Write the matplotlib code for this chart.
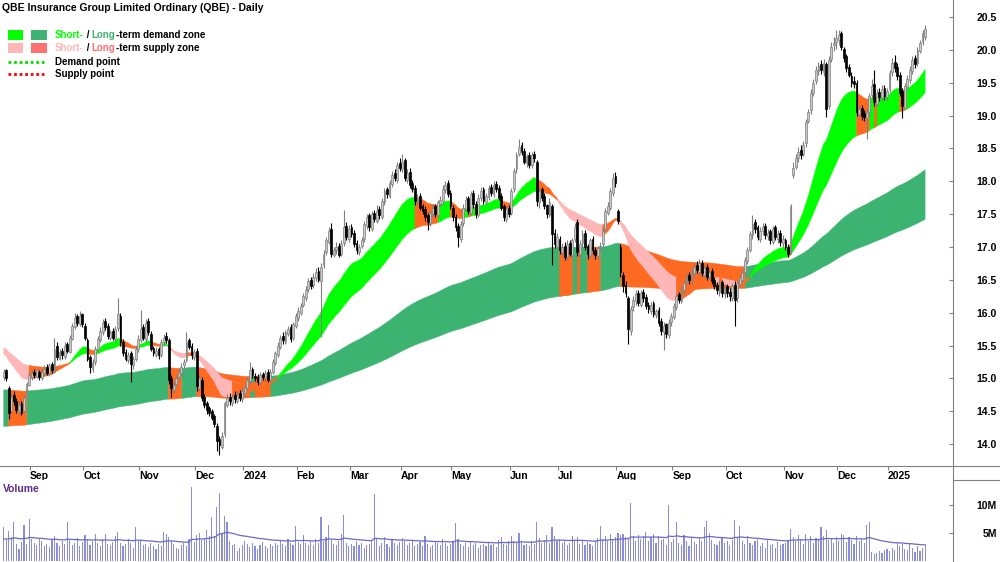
import numpy as np
import pandas as pd
import matplotlib
matplotlib.use("Agg")
import matplotlib.pyplot as plt
from matplotlib.lines import Line2D
from matplotlib.patches import Rectangle

plt.rcParams['font.family'] = ['Liberation Sans', 'DejaVu Sans']

# ---- daily OHLC, QBE, 17 Aug 2023 .. 22 Jan 2025 (one line per month) ----
opens = [
    15.02, 15.12, 14.85, 14.50, 14.75, 14.66, 14.50, 14.62, 14.50, 14.72, 14.90,
    15.02, 15.10, 15.02, 15.10, 15.00, 15.08, 15.18, 15.06, 15.22, 15.10, 15.50, 15.30, 15.42, 15.32, 15.52, 15.40, 15.60, 15.78, 15.95, 15.82, 15.98,
    15.80, 15.58, 15.32, 15.15, 15.25, 15.45, 15.58, 15.70, 15.88, 15.80, 15.62, 15.72, 15.60, 15.76, 15.95, 15.55, 15.40, 15.28, 15.38, 15.20, 15.30, 15.45,
    15.58, 15.78, 15.60, 15.88, 15.68, 15.46, 15.36, 15.44, 15.36, 15.55, 15.65, 15.58, 15.00, 14.82, 14.92, 15.02, 15.08, 15.20, 15.28, 15.58, 15.50, 15.32,
    15.42, 14.85, 14.98, 14.72, 14.62, 14.55, 14.50, 14.42, 14.28, 14.08, 13.95, 14.15, 14.60, 14.72, 14.62, 14.75, 14.66, 14.78, 14.68,
    14.78, 14.86, 14.96, 15.15, 15.04, 15.02, 14.94, 15.06, 15.00, 15.10, 14.98, 15.10, 15.24, 15.36, 15.48, 15.65, 15.56, 15.68, 15.78, 15.62, 15.80,
    15.92, 16.00, 16.12, 16.22, 16.36, 16.50, 16.42, 16.52, 16.64, 16.48, 16.72, 16.92, 17.08, 17.28, 16.88, 16.96, 17.02, 16.90, 17.06, 17.32, 17.12,
    17.30, 17.22, 17.06, 16.92, 17.02, 17.12, 17.32, 17.48, 17.28, 17.52, 17.40, 17.58, 17.46, 17.68, 17.88, 17.78, 17.96, 18.12, 18.02, 18.28,
    18.18, 18.32, 18.02, 18.14, 17.98, 17.90, 17.68, 17.78, 17.62, 17.58, 17.48, 17.36, 17.50, 17.62, 17.48, 17.66, 17.70, 17.86, 17.98, 17.82,
    17.60, 17.46, 17.32, 17.12, 17.36, 17.58, 17.74, 17.52, 17.82, 17.66, 17.48, 17.74, 17.88, 17.68, 17.76, 17.92, 17.80, 17.96, 17.90, 17.78, 17.62, 17.42, 17.60,
    17.52, 17.88, 18.18, 18.42, 18.55, 18.46, 18.28, 18.40, 18.24, 18.42, 18.30, 17.68, 17.88, 17.78, 17.64, 17.48, 17.62, 17.22, 17.02,
    17.12, 16.92, 17.02, 16.84, 17.06, 16.88, 17.12, 17.38, 16.90, 17.06, 17.22, 17.02, 16.88, 17.12, 16.96, 16.86, 17.00, 17.04, 17.28, 17.52, 17.60, 17.82, 18.08,
    17.55, 17.00, 16.58, 16.42, 16.22, 15.72, 16.08, 16.18, 16.30, 16.12, 16.32, 16.24, 16.12, 16.02, 16.14, 15.96, 16.04, 15.88, 15.70, 15.82, 15.66, 15.86,
    15.94, 16.08, 16.28, 16.18, 16.34, 16.46, 16.58, 16.48, 16.60, 16.72, 16.62, 16.76, 16.58, 16.70, 16.54, 16.64, 16.50, 16.42, 16.32, 16.46, 16.28,
    16.40, 16.32, 16.22, 16.42, 16.22, 16.44, 16.50, 16.62, 16.78, 16.96, 17.18, 17.38, 17.30, 17.12, 17.24, 17.32, 17.16, 17.24, 17.08, 17.30, 17.12, 17.22, 17.06,
    17.10, 17.00, 16.92, 18.10, 18.22, 18.36, 18.48, 18.42, 18.58, 18.92, 19.08, 19.34, 19.52, 19.68, 19.78, 19.66, 19.78, 19.15, 19.86, 20.08, 20.12,
    20.15, 20.25, 20.02, 19.90, 19.74, 19.60, 19.52, 19.50, 19.02, 19.12, 19.04, 18.96, 19.06, 19.32, 19.48, 19.18, 19.36, 19.26, 19.42, 19.28,
    19.40, 19.66, 19.82, 19.74, 19.62, 19.38, 19.12, 19.44, 19.54, 19.68, 19.88, 19.80, 19.98, 20.12, 20.20,
]
highs = [
    15.15, 15.15, 14.88, 14.78, 14.80, 14.70, 14.65, 14.66, 14.74, 14.95, 15.10,
    15.12, 15.14, 15.15, 15.12, 15.14, 15.20, 15.22, 15.24, 15.25, 15.62, 15.55, 15.45, 15.46, 15.55, 15.56, 15.66, 15.85, 16.00, 15.98, 16.02, 16.00,
    15.85, 15.62, 15.36, 15.30, 15.50, 15.65, 15.78, 15.90, 15.92, 15.84, 15.74, 15.76, 15.80, 16.22, 16.00, 15.60, 15.45, 15.40, 15.42, 15.34, 15.50, 15.66,
    16.04, 15.82, 15.90, 15.92, 15.72, 15.50, 15.48, 15.48, 15.60, 15.68, 15.70, 15.62, 15.05, 14.95, 15.05, 15.14, 15.24, 15.30, 15.70, 15.62, 15.54, 15.45,
    15.46, 15.05, 15.02, 14.76, 14.66, 14.58, 14.54, 14.45, 14.32, 14.12, 14.18, 14.66, 14.76, 14.78, 14.76, 14.80, 14.80, 14.82, 14.85,
    14.90, 15.02, 15.25, 15.18, 15.08, 15.06, 15.10, 15.10, 15.12, 15.14, 15.14, 15.30, 15.42, 15.55, 15.66, 15.70, 15.74, 15.80, 15.82, 15.86, 16.00,
    16.08, 16.14, 16.30, 16.40, 16.52, 16.55, 16.60, 16.68, 16.70, 16.75, 16.95, 17.15, 17.30, 17.36, 17.00, 17.08, 17.06, 17.10, 17.56, 17.38, 17.34,
    17.35, 17.26, 17.10, 17.05, 17.15, 17.40, 17.50, 17.52, 17.55, 17.56, 17.64, 17.62, 17.75, 17.90, 17.92, 18.02, 18.15, 18.18, 18.30, 18.35,
    18.42, 18.36, 18.18, 18.20, 18.02, 17.94, 17.80, 17.82, 17.66, 17.62, 17.52, 17.56, 17.66, 17.66, 17.72, 17.78, 17.94, 18.00, 18.02, 17.86,
    17.64, 17.50, 17.36, 17.40, 17.65, 17.78, 17.78, 17.85, 17.86, 17.70, 17.80, 17.92, 17.92, 17.82, 17.95, 17.96, 18.00, 18.00, 17.94, 17.82, 17.66, 17.62, 17.64,
    17.90, 18.20, 18.45, 18.65, 18.60, 18.50, 18.42, 18.45, 18.44, 18.46, 18.32, 17.92, 17.92, 17.82, 17.66, 17.74, 17.66, 17.28, 17.22,
    17.16, 17.06, 17.08, 17.10, 17.10, 17.14, 17.36, 17.42, 17.10, 17.26, 17.26, 17.05, 17.14, 17.16, 17.00, 17.02, 17.08, 17.30, 17.60, 17.68, 17.90, 18.12, 18.14,
    17.58, 17.04, 16.62, 16.48, 16.26, 16.10, 16.25, 16.34, 16.34, 16.35, 16.36, 16.28, 16.16, 16.16, 16.18, 16.06, 16.08, 15.92, 15.86, 15.84, 15.90, 16.00,
    16.15, 16.30, 16.32, 16.40, 16.50, 16.60, 16.62, 16.68, 16.76, 16.78, 16.82, 16.80, 16.72, 16.74, 16.66, 16.68, 16.54, 16.46, 16.50, 16.50, 16.44,
    16.44, 16.38, 16.45, 16.48, 16.50, 16.58, 16.66, 16.85, 17.00, 17.25, 17.48, 17.42, 17.34, 17.30, 17.36, 17.36, 17.28, 17.28, 17.32, 17.34, 17.26, 17.26, 17.18,
    17.14, 17.04, 17.66, 18.30, 18.42, 18.52, 18.55, 18.62, 18.95, 19.10, 19.40, 19.55, 19.76, 19.82, 19.84, 19.86, 19.82, 19.90, 20.12, 20.20, 20.30,
    20.30, 20.28, 20.05, 19.94, 19.78, 19.66, 19.60, 19.54, 19.16, 19.16, 19.08, 19.10, 19.34, 19.55, 19.70, 19.40, 19.42, 19.46, 19.46, 19.42,
    19.70, 19.88, 19.92, 19.80, 19.66, 19.42, 19.50, 19.62, 19.75, 19.90, 19.92, 20.05, 20.15, 20.30, 20.38,
]
lows = [
    14.98, 14.96, 14.38, 14.45, 14.60, 14.48, 14.46, 14.44, 14.48, 14.70, 14.88,
    14.98, 15.00, 15.00, 14.98, 14.98, 15.04, 15.05, 15.04, 15.08, 15.08, 15.28, 15.28, 15.30, 15.30, 15.38, 15.38, 15.58, 15.75, 15.80, 15.80, 15.78,
    15.58, 15.26, 15.08, 15.10, 15.20, 15.40, 15.55, 15.66, 15.74, 15.60, 15.58, 15.58, 15.56, 15.72, 15.50, 15.34, 15.26, 15.24, 14.94, 15.15, 15.26, 15.40,
    15.55, 15.58, 15.56, 15.66, 15.42, 15.34, 15.32, 15.30, 15.32, 15.50, 15.54, 14.92, 14.72, 14.78, 14.88, 14.98, 15.04, 15.15, 15.25, 15.44, 15.30, 15.28,
    14.80, 14.80, 14.66, 14.55, 14.45, 14.42, 14.36, 14.26, 13.90, 13.83, 13.92, 14.10, 14.56, 14.60, 14.58, 14.62, 14.62, 14.66, 14.64,
    14.72, 14.82, 14.92, 15.00, 14.96, 14.90, 14.92, 14.98, 14.96, 14.94, 14.95, 15.06, 15.20, 15.32, 15.45, 15.52, 15.52, 15.64, 15.56, 15.58, 15.76,
    15.88, 15.96, 16.08, 16.18, 16.32, 16.36, 16.38, 16.48, 16.46, 15.63, 16.68, 16.88, 17.04, 16.84, 16.84, 16.90, 16.84, 16.86, 17.02, 17.10, 17.08,
    17.15, 17.00, 16.90, 16.88, 16.98, 17.08, 17.28, 17.25, 17.25, 17.38, 17.36, 17.42, 17.42, 17.64, 17.75, 17.74, 17.92, 18.00, 17.98, 18.15,
    18.14, 18.00, 17.98, 17.90, 17.84, 17.64, 17.64, 17.56, 17.50, 17.40, 17.26, 17.32, 17.46, 17.46, 17.44, 17.62, 17.66, 17.82, 17.76, 17.58,
    17.40, 17.24, 17.00, 17.08, 17.32, 17.54, 17.50, 17.48, 17.60, 17.44, 17.45, 17.70, 17.66, 17.64, 17.72, 17.78, 17.76, 17.84, 17.72, 17.56, 17.40, 17.38, 17.46,
    17.48, 17.84, 18.12, 18.38, 18.40, 18.26, 18.22, 18.20, 18.20, 18.30, 17.62, 17.60, 17.70, 17.58, 17.44, 17.46, 16.72, 16.98, 16.95,
    16.90, 16.86, 16.80, 16.80, 16.86, 16.84, 17.08, 16.86, 16.85, 17.00, 16.96, 16.82, 16.84, 16.90, 16.82, 16.80, 16.96, 17.00, 17.24, 17.48, 17.56, 17.78, 17.92,
    17.35, 16.55, 16.32, 16.24, 15.53, 15.66, 16.02, 16.12, 16.10, 16.08, 16.16, 16.06, 16.00, 15.98, 15.94, 15.92, 15.80, 15.66, 15.43, 15.62, 15.62, 15.80,
    15.90, 16.04, 16.14, 16.14, 16.30, 16.42, 16.44, 16.44, 16.56, 16.60, 16.58, 16.56, 16.54, 16.50, 16.50, 16.44, 16.36, 16.28, 16.26, 16.24, 16.22,
    16.24, 16.18, 16.18, 15.80, 16.16, 16.40, 16.46, 16.58, 16.74, 16.92, 17.12, 17.22, 17.10, 17.08, 17.18, 17.12, 17.10, 17.04, 17.04, 17.10, 17.06, 17.02, 17.00,
    16.95, 16.85, 16.90, 18.05, 18.18, 18.30, 18.34, 18.38, 18.52, 18.88, 19.02, 19.30, 19.48, 19.62, 19.64, 19.60, 18.98, 19.10, 19.82, 19.98, 20.02,
    20.08, 20.00, 19.82, 19.66, 19.58, 19.44, 19.42, 19.00, 18.96, 18.94, 18.92, 18.65, 19.00, 19.26, 19.15, 19.14, 19.22, 19.22, 19.24, 19.24,
    19.36, 19.60, 19.66, 19.54, 19.30, 18.96, 19.10, 19.40, 19.50, 19.64, 19.72, 19.76, 19.95, 20.08, 20.15,
]
closes = [
    15.10, 15.00, 14.48, 14.72, 14.65, 14.52, 14.60, 14.48, 14.70, 14.92, 15.05,
    15.08, 15.05, 15.12, 15.02, 15.10, 15.15, 15.08, 15.20, 15.12, 15.45, 15.32, 15.40, 15.35, 15.50, 15.42, 15.62, 15.80, 15.92, 15.85, 15.95, 15.82,
    15.62, 15.30, 15.18, 15.25, 15.45, 15.60, 15.72, 15.85, 15.78, 15.65, 15.70, 15.62, 15.75, 15.98, 15.55, 15.38, 15.30, 15.35, 15.22, 15.30, 15.45, 15.60,
    15.75, 15.62, 15.85, 15.70, 15.45, 15.38, 15.42, 15.35, 15.55, 15.62, 15.58, 14.98, 14.85, 14.90, 15.00, 15.10, 15.18, 15.25, 15.55, 15.48, 15.35, 15.40,
    14.88, 15.00, 14.70, 14.60, 14.52, 14.48, 14.40, 14.30, 14.05, 13.98, 14.12, 14.62, 14.70, 14.65, 14.72, 14.68, 14.75, 14.70, 14.80,
    14.85, 14.98, 15.12, 15.05, 15.00, 14.95, 15.05, 15.02, 15.08, 14.98, 15.10, 15.25, 15.38, 15.50, 15.62, 15.58, 15.70, 15.75, 15.60, 15.82, 15.95,
    16.02, 16.10, 16.25, 16.35, 16.48, 16.40, 16.55, 16.62, 16.50, 16.70, 16.90, 17.10, 17.25, 16.90, 16.95, 17.00, 16.88, 17.05, 17.30, 17.15, 17.28,
    17.20, 17.05, 16.95, 17.00, 17.10, 17.35, 17.45, 17.30, 17.50, 17.42, 17.55, 17.48, 17.70, 17.85, 17.80, 17.98, 18.10, 18.05, 18.25, 18.20,
    18.30, 18.05, 18.12, 17.95, 17.88, 17.70, 17.75, 17.60, 17.55, 17.45, 17.38, 17.52, 17.60, 17.50, 17.68, 17.72, 17.88, 17.95, 17.80, 17.62,
    17.45, 17.30, 17.15, 17.35, 17.60, 17.72, 17.55, 17.80, 17.65, 17.50, 17.75, 17.85, 17.70, 17.78, 17.90, 17.82, 17.95, 17.88, 17.75, 17.60, 17.45, 17.58, 17.50,
    17.85, 18.15, 18.40, 18.52, 18.45, 18.30, 18.38, 18.25, 18.40, 18.35, 17.70, 17.85, 17.75, 17.62, 17.50, 17.68, 17.20, 17.05, 17.15,
    16.95, 17.00, 16.85, 17.05, 16.90, 17.10, 17.30, 16.92, 17.05, 17.20, 17.00, 16.90, 17.10, 16.95, 16.88, 16.98, 17.02, 17.25, 17.55, 17.62, 17.85, 18.05, 17.98,
    17.40, 16.62, 16.40, 16.30, 15.75, 16.05, 16.20, 16.28, 16.15, 16.30, 16.22, 16.10, 16.05, 16.12, 15.98, 16.02, 15.85, 15.72, 15.80, 15.68, 15.85, 15.95,
    16.10, 16.25, 16.20, 16.35, 16.45, 16.55, 16.50, 16.62, 16.70, 16.65, 16.75, 16.60, 16.68, 16.55, 16.62, 16.48, 16.40, 16.35, 16.45, 16.30, 16.38,
    16.30, 16.25, 16.40, 16.20, 16.45, 16.52, 16.60, 16.80, 16.95, 17.20, 17.35, 17.28, 17.15, 17.25, 17.30, 17.18, 17.22, 17.10, 17.28, 17.15, 17.20, 17.08, 17.12,
    17.00, 16.90, 17.62, 18.20, 18.35, 18.45, 18.40, 18.55, 18.90, 19.05, 19.35, 19.50, 19.70, 19.75, 19.70, 19.80, 19.10, 19.85, 20.05, 20.10, 20.18,
    20.22, 20.05, 19.88, 19.72, 19.62, 19.50, 19.48, 19.05, 19.10, 19.00, 18.98, 19.05, 19.30, 19.45, 19.20, 19.35, 19.28, 19.40, 19.30, 19.38,
    19.65, 19.80, 19.72, 19.60, 19.35, 19.15, 19.45, 19.55, 19.70, 19.85, 19.78, 20.00, 20.10, 20.25, 20.32,
]
# volume in millions of shares
volumes = [
    6.1, 3.8, 5.3, 4.2, 7.0, 3.0, 2.2, 3.4, 6.4, 3.1, 7.5,
    3.9, 3.3, 2.8, 4.0, 3.6, 2.7, 3.1, 2.5, 3.8, 4.4, 3.2, 2.6, 3.5, 3.0, 7.0, 3.7, 2.9, 3.3, 4.1, 2.6, 3.4,
    4.6, 3.8, 2.9, 3.6, 4.8, 3.2, 2.7, 3.9, 4.9, 3.1, 2.8, 3.4, 4.5, 5.1, 3.3, 2.6, 3.0, 4.0, 3.2, 2.4, 6.0, 3.5,
    3.6, 2.9, 3.1, 2.5, 3.3, 2.7, 2.2, 3.0, 2.6, 5.2, 4.8, 4.2, 3.6, 3.0, 2.4, 2.2, 2.8, 3.3, 2.6, 3.9, 13.2, 3.4,
    4.6, 5.0, 3.8, 4.1, 5.6, 4.4, 7.9, 4.5, 9.7, 12.1, 4.8, 8.0, 7.0, 3.5, 2.8, 3.0, 1.8, 2.4, 2.9,
    3.6, 3.0, 2.5, 3.2, 2.7, 2.1, 2.8, 3.4, 2.6, 2.3, 3.0, 2.7, 3.3, 2.9, 3.5, 3.1, 2.6, 4.0, 3.2, 2.8, 6.2,
    3.4, 3.0, 4.6, 3.2, 2.8, 3.6, 2.9, 4.0, 3.3, 7.9, 3.6, 4.2, 6.5, 3.8, 3.1, 2.8, 3.5, 4.8, 8.3, 3.2, 2.7,
    3.0, 2.6, 3.5, 2.9, 3.2, 2.4, 2.8, 3.1, 3.6, 12.0, 3.9, 2.7, 3.3, 4.3, 3.0, 2.5, 3.7, 3.2, 2.9, 3.4,
    4.1, 3.5, 2.9, 3.3, 3.8, 2.6, 3.0, 3.4, 2.7, 4.4, 3.1, 2.5, 2.9, 3.6, 3.2, 2.8, 4.0, 3.3, 2.6, 3.0,
    3.5, 6.8, 3.9, 3.0, 2.7, 3.2, 2.5, 3.6, 2.9, 3.3, 2.4, 2.8, 3.1, 2.6, 3.4, 2.9, 3.0, 2.5, 3.7, 4.2, 3.1, 2.8, 3.5,
    4.5, 3.6, 3.2, 5.0, 3.4, 2.9, 3.1, 2.7, 3.6, 3.0, 7.0, 4.1, 3.3, 3.8, 4.6, 3.2, 6.1, 4.4, 3.5,
    4.0, 3.2, 3.6, 2.9, 3.3, 4.5, 3.8, 4.2, 3.1, 3.5, 2.8, 3.4, 3.0, 2.7, 3.6, 4.1, 6.2, 3.9, 4.4, 3.6, 4.8, 3.9, 4.3,
    5.0, 4.6, 4.8, 4.2, 3.9, 10.3, 4.4, 3.5, 4.7, 3.9, 4.4, 5.1, 3.6, 4.3, 4.9, 3.2, 4.5, 3.8, 4.0, 2.9, 10.0, 3.4,
    4.0, 7.0, 3.2, 2.8, 4.6, 3.6, 2.7, 4.2, 3.4, 3.0, 4.1, 3.5, 6.0, 7.1, 5.0, 3.8, 3.1, 2.9, 3.6, 4.3, 3.2,
    3.5, 2.9, 3.8, 7.3, 4.1, 6.3, 3.6, 3.0, 4.4, 3.3, 2.8, 3.5, 4.0, 2.6, 3.2, 2.4, 3.7, 2.9, 3.1, 2.3, 3.4, 2.8, 3.0,
    3.2, 3.8, 5.7, 4.2, 3.5, 4.6, 3.9, 3.1, 4.8, 3.6, 4.5, 3.3, 4.1, 3.7, 6.1, 4.4, 5.5, 3.8, 4.0, 3.2, 4.3,
    3.6, 4.9, 4.7, 3.4, 4.2, 3.8, 3.0, 4.5, 3.6, 3.9, 3.3, 6.4, 7.0, 1.6, 1.2, 1.4, 1.7, 1.5, 1.9, 2.2,
    1.8, 2.4, 2.0, 3.2, 2.6, 3.1, 2.2, 1.9, 3.0, 2.4, 1.6, 2.7, 1.8, 2.3, 2.9,
]

asx_holidays = ["2023-12-25", "2023-12-26", "2024-01-01", "2024-01-26", "2024-03-29",
                "2024-04-01", "2024-04-25", "2024-06-10", "2024-12-25", "2024-12-26",
                "2025-01-01"]

# moving average bands (short-term group / long-term group), values before the first bar
short_spans = [22, 26, 30, 35, 40, 45]
short_start = [15.40, 15.42, 15.44, 15.45, 15.47, 15.48]
long_spans = [150, 170, 190, 215, 245, 280]
long_start = [14.82, 14.72, 14.62, 14.50, 14.38, 14.26]
vol_ma_span = 40
vol_ma_start = 3.8

SHORT_DEMAND = "#00FF00"
LONG_DEMAND = "#3CB371"
SHORT_SUPPLY = "#FFB6B6"
LONG_SUPPLY = "#FF7070"
MIXED = "#FF6A22"

dates = pd.bdate_range("2023-08-17", "2025-01-22")
dates = dates[~dates.isin(pd.to_datetime(asx_holidays))]
df = pd.DataFrame({"open": opens, "high": highs, "low": lows,
                   "close": closes, "volume": volumes}, index=dates)
x = np.arange(len(df))
o, h, l, c = [df[k].to_numpy() for k in ("open", "high", "low", "close")]


def ema_group(values, spans, start):
    out = np.zeros((len(spans), len(values)))
    for j, (n, e) in enumerate(zip(spans, start)):
        k = 2.0 / (n + 1)
        for i, v in enumerate(values):
            e = e + k * (v - e)
            out[j, i] = e
    return out


def zone_masks(group, close):
    top, bot = group.max(axis=0), group.min(axis=0)
    rising = group[0] > group[-1]
    demand = rising & (close > top)
    supply = (~rising) & (close < bot)
    return top, bot, demand, supply, ~(demand | supply)


def fill_zone(ax, lo, hi, mask, color, z):
    m = mask.copy()
    m[1:] |= mask[:-1]          # carry each day's colour to the next bar
    ax.fill_between(x, lo, hi, where=m, color=color, lw=0.3, zorder=z)


short_g = ema_group(c, short_spans, short_start)
long_g = ema_group(c, long_spans, long_start)

fig = plt.figure(figsize=(10, 5.62), dpi=100)
ax = fig.add_axes([0, 1 - 466 / 562, 0.9525, 466 / 562])
axv = fig.add_axes([0, 0, 0.9525, (562 - 480) / 562])

# long-term band
top, bot, dm, sp, mx = zone_masks(long_g, c)
fill_zone(ax, bot, top, dm, LONG_DEMAND, 1)
fill_zone(ax, bot, top, sp, LONG_SUPPLY, 1)
fill_zone(ax, bot, top, mx, MIXED, 1)
# short-term band
top, bot, dm, sp, mx = zone_masks(short_g, c)
fill_zone(ax, bot, top, dm, SHORT_DEMAND, 2)
fill_zone(ax, bot, top, sp, SHORT_SUPPLY, 2)
fill_zone(ax, bot, top, mx, MIXED, 2)

# candles
up = c >= o
ax.vlines(x[up], l[up], h[up], color="#7F7F7F", lw=0.8, zorder=3)
ax.vlines(x[~up], l[~up], h[~up], color="black", lw=0.8, zorder=3)
ax.bar(x[up], (c - o)[up], bottom=o[up], width=0.72, color="#C8C8C8",
       edgecolor="#7F7F7F", lw=0.5, zorder=4)
ax.bar(x[~up], (o - c)[~up], bottom=c[~up], width=0.72, color="black",
       edgecolor="black", lw=0.5, zorder=4)

xlim = (-1.46, 373.8)
ax.set_xlim(*xlim)
ax.set_ylim(13.666, 20.759)
yt = np.arange(14.0, 20.51, 0.5)
ax.yaxis.tick_right()
ax.set_yticks(yt, labels=[f"{v:.1f}" for v in yt], ha="right")
ax.tick_params(axis="y", direction="in", length=3, color="#808080",
               pad=32, labelsize=7.5)
for lab in ax.get_yticklabels():
    lab.set_fontweight("bold")

month_start = np.where(df.index.month[1:] != df.index.month[:-1])[0] + 1
names = [d.strftime("%Y") if d.month == 1 else d.strftime("%b") for d in df.index[month_start]]
ax.set_xticks(month_start - 0.6, labels=names, ha="left")
ax.tick_params(axis="x", direction="out", length=3, color="#808080", pad=0.5,
               labelsize=7.5)
for lab in ax.get_xticklabels():
    lab.set_fontweight("bold")

for s in ("top", "left", "right"):
    ax.spines[s].set_visible(False)
ax.spines["bottom"].set_color("#808080")
ax.spines["bottom"].set_linewidth(0.8)

# volume panel
vol = df["volume"].to_numpy()
vol_ma = ema_group(vol, [vol_ma_span], [vol_ma_start])[0]
axv.bar(x, vol, width=0.45, color="#8C8CDC", lw=0)
axv.plot(x, vol_ma, color="#6A6AC4", lw=0.9)
axv.set_xlim(*xlim)
axv.set_ylim(-0.18, 14.46)
axv.yaxis.tick_right()
axv.set_yticks([5, 10], labels=["5M", "10M"], ha="right")
axv.tick_params(axis="y", direction="in", length=3, color="#808080", pad=32,
                labelsize=7.5)
for lab in axv.get_yticklabels():
    lab.set_fontweight("bold")
axv.set_xticks([])
for s in axv.spines.values():
    s.set_visible(False)

# frame lines
fig.add_artist(Line2D([0.9525, 0.9525], [0, 1], color="#808080", lw=0.8))
fig.add_artist(Line2D([0.9525, 1], [1 - 480 / 562] * 2, color="#808080", lw=0.8))
fig.add_artist(Line2D([0.9525, 1], [1 - 466 / 562] * 2, color="#808080", lw=0.8))

fig.text(3 / 1000, 1 - 489 / 562, "Volume", color="#5B2A8C", fontsize=7.5,
         fontweight="bold", va="center")
fig.text(2 / 1000, 1 - 8 / 562, "QBE Insurance Group Limited Ordinary (QBE) - Daily",
         fontsize=7.5, fontweight="bold", va="center")

# legend
renderer = fig.canvas.get_renderer()


def colored_line(px, py, parts):
    for txt, col in parts:
        t = fig.text(px / 1000, 1 - py / 562, txt, color=col, fontsize=7,
                     fontweight="bold", va="center")
        px = t.get_window_extent(renderer).x1 / fig.dpi / fig.get_figwidth() * 1000


for py, c1, c2 in ((35, SHORT_DEMAND, LONG_DEMAND), (48, SHORT_SUPPLY, LONG_SUPPLY)):
    fig.add_artist(Rectangle((8 / 1000, 1 - (py + 5) / 562), 15 / 1000, 10 / 562,
                             transform=fig.transFigure, color=c1, lw=0))
    fig.add_artist(Rectangle((31 / 1000, 1 - (py + 5) / 562), 16 / 1000, 10 / 562,
                             transform=fig.transFigure, color=c2, lw=0))
colored_line(55, 35, [("Short-", SHORT_DEMAND), (" / ", "black"), ("Long", LONG_DEMAND),
                      ("-term demand zone", "black")])
colored_line(55, 48, [("Short-", SHORT_SUPPLY), (" / ", "black"), ("Long", LONG_SUPPLY),
                      ("-term supply zone", "black")])
fig.add_artist(Line2D([8 / 1000, 44 / 1000], [1 - 62 / 562] * 2, color="#00E000",
                      lw=2, ls=(0, (1, 1))))
fig.add_artist(Line2D([8 / 1000, 44 / 1000], [1 - 74 / 562] * 2, color="#FF0000",
                      lw=2, ls=(0, (1, 1))))
colored_line(55, 62, [("Demand point", "black")])
colored_line(55, 74, [("Supply point", "black")])

fig.savefig("out.png", dpi=100)
